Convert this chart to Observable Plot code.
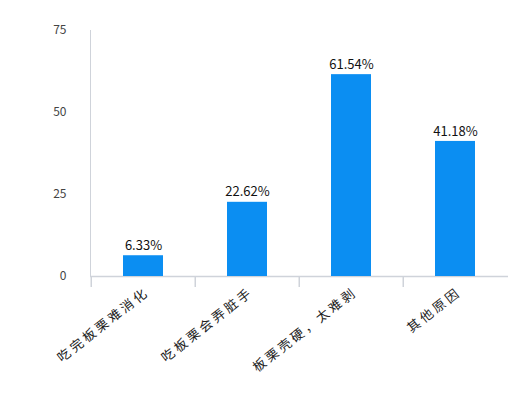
<!DOCTYPE html>
<html><head><meta charset="utf-8">
<script src="https://cdn.jsdelivr.net/npm/d3@7"></script>
<script src="https://cdn.jsdelivr.net/npm/@observablehq/plot@0.6"></script>
<style>body{margin:0;background:#fff;} svg{display:block;}
g[aria-label="x-axis tick label"] text{letter-spacing:3px;}</style>
</head><body><div id="chart"></div>
<script>
const categories = ["吃完板栗难消化", "吃板栗会弄脏手", "板栗壳硬，太难剥", "其他原因"];
const values = [6.33, 22.62, 61.54, 41.18];
const yTicks = [0, 25, 50, 75];

const data = categories.map((c, i) => ({cat: c, v: values[i]}));
const W = 508, H = 395, mL = 90, mR = 0, mT = 30, mB = 119;
const step = (W - mL - mR) / categories.length;

const chart = Plot.plot({
  width: W, height: H,
  marginLeft: mL, marginRight: mR, marginTop: mT, marginBottom: mB,
  style: {fontFamily: "'Noto Sans CJK SC', sans-serif", background: "#fff"},
  x: {domain: categories, paddingInner: 0.62, paddingOuter: 0.31, label: null},
  y: {domain: [0, 75], ticks: yTicks, label: null},
  marks: [
    Plot.frame({anchor: "left", stroke: "#cfd3da"}),
    Plot.ruleY([0], {stroke: "#cfd3da", strokeWidth: 1.5}),
    Plot.ruleX(categories, {x: d => d, dx: -step / 2, y1: 0, y2: 0, insetBottom: -11, stroke: "#cfd3da", strokeWidth: 1.5}),
    Plot.barY(data, {x: "cat", y: "v", fill: "#0b8ef2"}),
    Plot.text(data, {x: "cat", y: "v", text: d => d.v.toFixed(2) + "%", dy: -10, fontSize: 13, fill: "#111"}),
    Plot.axisY({ticks: yTicks, tickSize: 0, tickPadding: 24, fontSize: 12, fill: "#444", label: null}),
    Plot.axisX({tickSize: 0, tickRotate: -38, textAnchor: "end", tickPadding: 14, dx: 4, fontSize: 13, fill: "#222", label: null})
  ]
});
document.getElementById("chart").appendChild(chart);
</script></body></html>
